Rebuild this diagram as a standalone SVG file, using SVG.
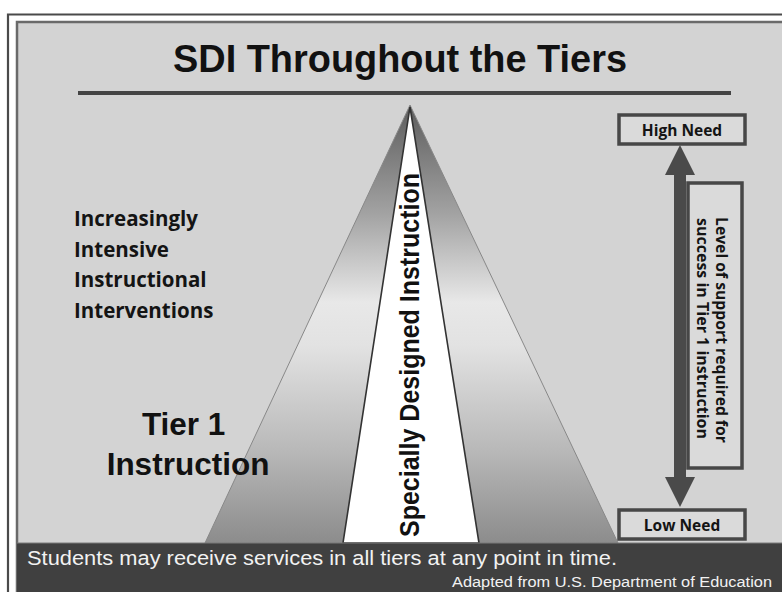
<svg xmlns="http://www.w3.org/2000/svg" width="782" height="592" viewBox="0 0 782 592">
  <defs>
    <linearGradient id="bandGrad" gradientUnits="userSpaceOnUse" x1="0" y1="105" x2="0" y2="543">
      <stop offset="0" stop-color="#5c5c5c"/>
      <stop offset="0.25" stop-color="#a3a3a3"/>
      <stop offset="0.45" stop-color="#e8e8e8"/>
      <stop offset="0.55" stop-color="#e2e2e2"/>
      <stop offset="0.78" stop-color="#bababa"/>
      <stop offset="1" stop-color="#8c8c8c"/>
    </linearGradient>
    <marker id="head" viewBox="0 0 30 30" refX="0" refY="15" markerWidth="30" markerHeight="30" markerUnits="userSpaceOnUse" orient="auto-start-reverse">
      <path d="M0,0 L30,15 L0,30 Z" fill="#4a4a4a"/>
    </marker>
  </defs>
  <style>
    .cal { font-family: "Open Sans", "Liberation Sans", sans-serif; font-weight: bold; fill: #141414; }
    .ar { font-family: "Liberation Sans", Arial, sans-serif; }
    .box { fill: #dadada; stroke: #474747; stroke-width: 3.5; }
  </style>

  <!-- background and frame -->
  <rect x="0" y="0" width="782" height="592" fill="#ffffff"/>
  <path d="M8,600 V14.5 H790" fill="none" stroke="#4a4a4a" stroke-width="2.2"/>
  <rect x="17" y="22" width="800" height="600" fill="#d3d3d3" stroke="#6a6a6a" stroke-width="2.5"/>

  <g id="title">
    <text class="ar" x="400" y="72" font-size="39" font-weight="bold" text-anchor="middle" textLength="454" lengthAdjust="spacingAndGlyphs" fill="#111">SDI Throughout the Tiers</text>
    <line x1="78" y1="93" x2="731" y2="93" stroke="#444" stroke-width="4"/>
  </g>

  <g id="pyramid">
    <polygon points="410,105 205,543 618,543" fill="url(#bandGrad)" stroke="#888" stroke-width="1"/>
    <polygon points="410,107 343,543 479,543" fill="#ffffff" stroke="#333" stroke-width="1.6"/>
  </g>

  <g id="sdi-label">
    <text class="ar" transform="translate(419,355) rotate(-90)" font-size="27" font-weight="bold" text-anchor="middle" textLength="364" lengthAdjust="spacingAndGlyphs" fill="#111">Specially Designed Instruction</text>
  </g>

  <g id="interventions-label">
    <text class="cal" font-size="20.5">
      <tspan x="74" y="226">Increasingly</tspan>
      <tspan x="74" y="256.5">Intensive</tspan>
      <tspan x="74" y="287">Instructional</tspan>
      <tspan x="74" y="317.5">Interventions</tspan>
    </text>
  </g>

  <g id="tier1-label">
    <text class="ar" font-size="31.5" font-weight="bold" text-anchor="middle" fill="#111">
      <tspan x="188" y="435">Tier 1</tspan>
      <tspan x="188" y="475">Instruction</tspan>
    </text>
  </g>

  <g id="connectors">
    <line x1="680" y1="175" x2="680" y2="477" stroke="#4a4a4a" stroke-width="12" marker-start="url(#head)" marker-end="url(#head)"/>
  </g>

  <g id="high-need">
    <rect class="box" x="619" y="115" width="126" height="29"/>
    <text class="cal" x="682" y="135.5" font-size="15.5" text-anchor="middle">High Need</text>
  </g>

  <g id="support-label">
    <rect class="box" x="688" y="183" width="54" height="285" stroke-width="3"/>
    <text class="cal" transform="translate(716,217) rotate(90)" font-size="15.5" textLength="226" lengthAdjust="spacingAndGlyphs">Level of support required for</text>
    <text class="cal" transform="translate(697,218) rotate(90)" font-size="15.5" textLength="221" lengthAdjust="spacingAndGlyphs">success in Tier 1 instruction</text>
  </g>

  <g id="low-need">
    <rect class="box" x="619" y="510" width="126" height="29"/>
    <text class="cal" x="682" y="530.5" font-size="15.5" text-anchor="middle">Low Need</text>
  </g>

  <g id="footer">
    <rect x="17" y="543" width="780" height="60" fill="#404040"/>
    <line x1="17" y1="543" x2="782" y2="543" stroke="#7a7a7a" stroke-width="1"/>
    <text class="ar" x="27" y="565" font-size="20.5" fill="#f2f2f2" textLength="590" lengthAdjust="spacingAndGlyphs">Students may receive services in all tiers at any point in time.</text>
    <text class="ar" x="772" y="587" font-size="15.5" fill="#f2f2f2" text-anchor="end" textLength="320" lengthAdjust="spacingAndGlyphs">Adapted from U.S. Department of Education</text>
  </g>
</svg>
